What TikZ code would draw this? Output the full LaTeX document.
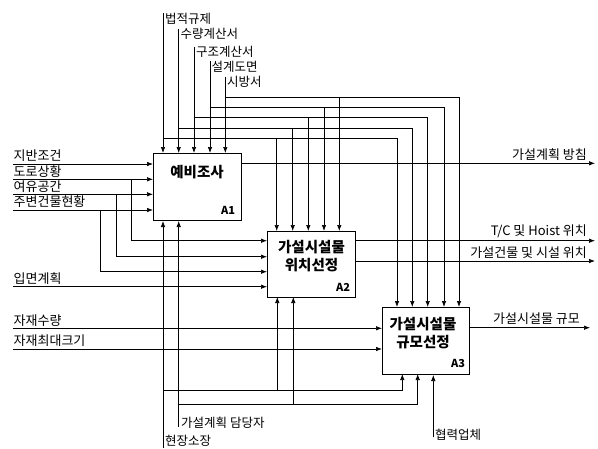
\documentclass[tikz,border=0pt]{standalone}
\usepackage{fontspec}
\setmainfont{Noto Sans CJK KR}
\usetikzlibrary{arrows.meta}
\tikzset{
  box/.style={draw, line width=1pt, inner sep=0pt, anchor=north west},
  ln/.style={line width=0.7pt},
  flow/.style={line width=0.7pt, -{Latex[length=6pt,width=4.5pt]}},
  lbl/.style={inner sep=0pt, font=\fontsize{13}{13}\selectfont},
  tlbl/.style={inner sep=0pt, font=\fontsize{12.5}{13}\selectfont, anchor=west},
  btxt/.style={inner sep=0pt, font=\bfseries\fontsize{14.5}{18}\selectfont, align=center},
  bid/.style={inner sep=0pt, font=\bfseries\fontsize{11}{11}\selectfont},
}
\begin{document}
\begin{tikzpicture}[x=1pt,y=-1pt]
\useasboundingbox (0,0) rectangle (598,448);
% boxes
\node[box, minimum width=88pt, minimum height=67pt] (A1) at (153,153) {};
\node[box, minimum width=88pt, minimum height=66pt] (A2) at (267,231) {};
\node[box, minimum width=87pt, minimum height=67pt] (A3) at (382,307) {};
\node[btxt] (A1t) at (197,172) {예비조사};
\node[bid] (A1i) at (228,210) {A1};
\node[btxt] (A2t) at (311.5,256) {가설시설물\\위치선정};
\node[bid] (A2i) at (343,287) {A2};
\node[btxt] (A3t) at (423,333) {가설시설물\\규모선정};
\node[bid] (A3i) at (458,363.5) {A3};

% controls (top)
\coordinate (c1) at (163,13);
\coordinate (c2) at (178.7,29);
\coordinate (c3) at (194,47);
\coordinate (c4) at (210,61);
\coordinate (c5) at (225.3,77);
\node[tlbl] (lc1) at (165,18.5) {법적규제};
\node[tlbl] (lc2) at (180.5,34) {수량계산서};
\node[tlbl] (lc3) at (196,52) {구조계산서};
\node[tlbl] (lc4) at (211.5,66.5) {설계도면};
\node[tlbl] (lc5) at (227,82) {시방서};
\foreach \c in {c1,c2,c3,c4,c5}{
  \draw[flow] (\c) -- (\c |- A1.north);
}
% branches of controls
\coordinate (j1) at (163,138);
\coordinate (j2) at (178.7,128);
\coordinate (j3) at (194,117.5);
\coordinate (j4) at (210,107);
\coordinate (j5) at (225.3,97);
\draw[ln] (j1) -- (397,138);
\draw[ln] (j2) -- (412.3,128);
\draw[ln] (j3) -- (427.7,117.5);
\draw[ln] (j4) -- (444,107);
\draw[ln] (j5) -- (459,97);
\draw[flow] (397,138) -- (397,307);
\draw[flow] (412.3,128) -- (412.3,307);
\draw[flow] (427.7,117.5) -- (427.7,307);
\draw[flow] (444,107) -- (444,307);
\draw[flow] (459,97) -- (459,307);
\draw[flow] (276.7,138) -- (276.7,231);
\draw[flow] (292.7,128) -- (292.7,231);
\draw[flow] (308.3,117.5) -- (308.3,231);
\draw[flow] (324,107) -- (324,231);
\draw[flow] (339.3,97) -- (339.3,231);

% inputs (left)
\coordinate (i1) at (13,164);
\coordinate (i2) at (13,179.3);
\coordinate (i3) at (13,194.3);
\coordinate (i4) at (13,210);
\coordinate (i5) at (13,286.7);
\coordinate (i6) at (13,328.3);
\coordinate (i7) at (13,349);
\node[lbl, anchor=south west] (li1) at (13.5,162) {지반조건};
\node[lbl, anchor=south west] (li2) at (13.5,177.3) {도로상황};
\node[lbl, anchor=south west] (li3) at (13.5,192.3) {여유공간};
\node[lbl, anchor=south west] (li4) at (13.5,208) {주변건물현황};
\node[lbl, anchor=south west] (li5) at (13.5,284.7) {입면계획};
\node[lbl, anchor=south west] (li6) at (13.5,326.3) {자재수량};
\node[lbl, anchor=south west] (li7) at (13.5,347) {자재최대크기};
\foreach \i in {i1,i2,i3,i4}{
  \draw[flow] (\i) -- (\i -| A1.west);
}
\draw[flow] (131.7,179.3) -- (131.7,240.7) -- (267,240.7);
\draw[flow] (116.3,194.3) -- (116.3,256.7) -- (267,256.7);
\draw[flow] (100,210) -- (100,271.7) -- (267,271.7);
\draw[flow] (i5) -- (i5 -| A2.west);
\draw[flow] (i6) -- (i6 -| A3.west);
\draw[flow] (i7) -- (i7 -| A3.west);

% outputs (right)
\coordinate (o1) at (595,163.3);
\coordinate (o2) at (595,240.7);
\coordinate (o3) at (595,261);
\coordinate (o4) at (590,327.7);
\draw[flow] (o1 -| A1.east) -- (o1);
\draw[flow] (o2 -| A2.east) -- (o2);
\draw[flow] (o3 -| A2.east) -- (o3);
\draw[flow] (o4 -| A3.east) -- (o4);
\node[lbl, anchor=south east] (lo1) at (587,160.5) {가설계획 방침};
\node[lbl, anchor=south east] (lo2) at (587,238) {T/C 및 Hoist 위치};
\node[lbl, anchor=south east] (lo3) at (587,258.5) {가설건물 및 시설 위치};
\node[lbl, anchor=south east] (lo4) at (580,325) {가설시설물 규모};

% mechanisms (bottom)
\coordinate (m1) at (163,448);
\coordinate (m2) at (178.7,427);
\coordinate (m3) at (433.3,437);
\node[tlbl] (lm1) at (165,441) {현장소장};
\node[tlbl] (lm2) at (181,422.5) {가설계획 담당자};
\node[tlbl] (lm3) at (435,435) {협력업체};
\draw[flow] (m1) -- (m1 |- A1.south);
\draw[flow] (m2) -- (m2 |- A1.south);
\draw[flow] (m3) -- (m3 |- A3.south);
\draw[flow] (163,390.7) -- (402.3,390.7) -- (402.3,374);
\draw[flow] (178.7,404.3) -- (417.7,404.3) -- (417.7,374);
\draw[flow] (277.3,390.7) -- (277.3,297);
\draw[flow] (293.3,404.3) -- (293.3,297);
\end{tikzpicture}
\end{document}
